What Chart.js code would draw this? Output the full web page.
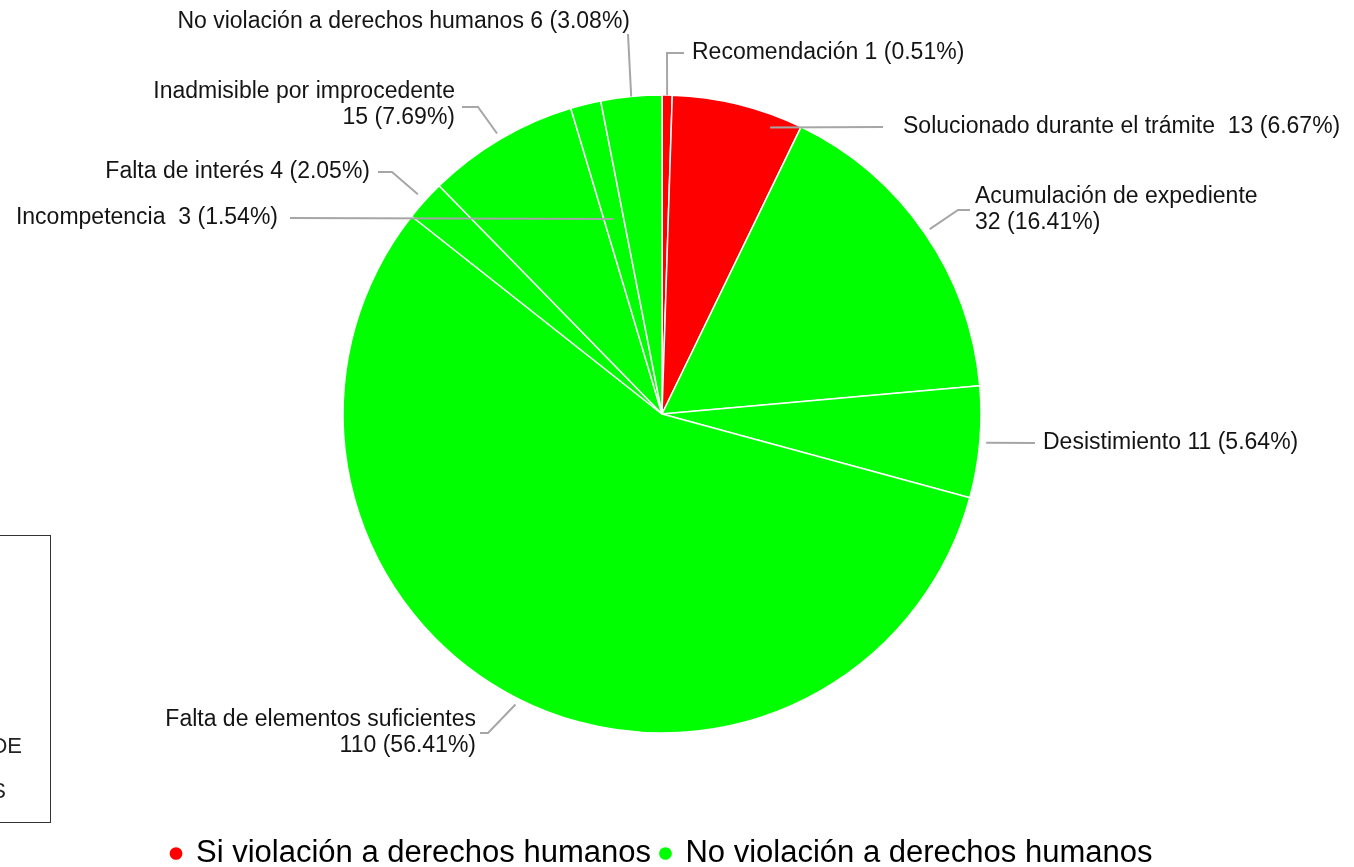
<!DOCTYPE html>
<html>
<head>
<meta charset="utf-8">
<script src="https://cdn.jsdelivr.net/npm/chart.js@4.4.1/dist/chart.umd.min.js"></script>
<style>
  body { margin: 0; background: #fff; overflow: hidden; }
  #wrap { position: relative; width: 1354px; height: 867px; }
  #caja { position: absolute; left: -10px; top: 535px; width: 59px; height: 286px; border: 1.5px solid #333; }
  .corte { position: absolute; font: 22px 'Liberation Sans', Arial, sans-serif; color: #222; white-space: nowrap; }
</style>
</head>
<body>
<div id="wrap">
  <canvas id="pastel" width="1354" height="867"></canvas>
  <div id="caja"></div>
  <span class="corte" style="right:1332px; top:733px;">DE</span>
  <span class="corte" style="right:1348px; top:778px;">S</span>
</div>
<script>
const categorias = ['Recomendación', 'Solucionado durante el trámite', 'Acumulación de expediente',
  'Desistimiento', 'Falta de elementos suficientes', 'Falta de interés',
  'Inadmisible por improcedente', 'Incompetencia', 'No violación a derechos humanos'];
const expedientes = [1, 13, 32, 11, 110, 4, 15, 3, 6];
const grupoDe = [0, 0, 1, 1, 1, 1, 1, 1, 1];
const grupos = ['Si violación a derechos humanos', 'No violación a derechos humanos'];
const coloresGrupo = ['#ff0000', '#00ff00'];

// where each label and its leader line sit (page pixels)
const etiquetas = [
  { frac: 0.5, r: 1.0, ruta: [[667, 53], [684, 53]], tx: 692, ty: 53, align: 'left', sep: ' ' },
  { frac: 0.785, r: 0.96, ruta: [[883, 127]], tx: 903, ty: 127, align: 'left', sep: '  ' },
  { frac: 0.5, r: 1.02, ruta: [[958, 210], [970, 210]], tx: 975, ty: 197, align: 'left', dos: true },
  { frac: 0.5, r: 1.02, ruta: [[1035, 443]], tx: 1043, ty: 443, align: 'left', sep: ' ' },
  { frac: 0.5, r: 1.02, ruta: [[488, 733], [480, 733]], tx: 476, ty: 720, align: 'right', dos: true },
  { frac: 0.5, r: 1.03, ruta: [[392, 172], [378, 172]], tx: 370, ty: 172, align: 'right', sep: ' ' },
  { frac: 0.5, r: 1.02, ruta: [[478, 107], [462, 107]], tx: 455, ty: 92, align: 'right', dos: true },
  { frac: 0.47, r: 0.63, ruta: [[290, 218]], tx: 278, ty: 218, align: 'right', sep: '  ' },
  { frac: 0.5, r: 1.0, ruta: [[628, 34]], tx: 630, ty: 22, align: 'right', sep: ' ' }
];

const total = expedientes.reduce((a, b) => a + b, 0);

const etiquetasPlugin = {
  id: 'etiquetas',
  afterDatasetsDraw(chart) {
    const ctx = chart.ctx;
    const arcos = chart.getDatasetMeta(0).data;
    ctx.save();
    ctx.font = "23px 'Liberation Sans', Arial, sans-serif";
    ctx.textBaseline = 'middle';
    arcos.forEach((arc, i) => {
      const e = etiquetas[i];
      const p = arc.getProps(['x', 'y', 'startAngle', 'endAngle', 'outerRadius'], true);
      const ang = p.startAngle + (p.endAngle - p.startAngle) * e.frac;
      const x0 = p.x + Math.cos(ang) * p.outerRadius * e.r;
      const y0 = p.y + Math.sin(ang) * p.outerRadius * e.r;
      ctx.strokeStyle = '#a6a6a6';
      ctx.lineWidth = 2;
      ctx.beginPath();
      ctx.moveTo(x0, y0);
      e.ruta.forEach(pt => ctx.lineTo(pt[0], pt[1]));
      ctx.stroke();
      const valor = expedientes[i] + ' (' + (expedientes[i] / total * 100).toFixed(2) + '%)';
      ctx.fillStyle = '#141414';
      ctx.textAlign = e.align;
      if (e.dos) {
        ctx.fillText(categorias[i], e.tx, e.ty);
        ctx.fillText(valor, e.tx, e.ty + 26);
      } else {
        ctx.fillText(categorias[i] + e.sep + valor, e.tx, e.ty);
      }
    });
    ctx.restore();
  }
};

new Chart(document.getElementById('pastel').getContext('2d'), {
  type: 'pie',
  data: {
    labels: categorias,
    datasets: [{
      data: expedientes,
      backgroundColor: grupoDe.map(g => coloresGrupo[g]),
      borderColor: '#ffffff',
      borderWidth: 1.5,
      radius: 319
    }]
  },
  options: {
    responsive: false,
    animation: false,
    layout: { padding: { top: 0, left: 0, right: 30, bottom: -12 } },
    plugins: {
      tooltip: { enabled: false },
      legend: {
        position: 'bottom',
        onClick: null,
        labels: {
          color: '#111',
          font: { family: "'Liberation Sans', Arial, sans-serif", size: 31 },
          usePointStyle: true,
          pointStyle: 'circle',
          boxWidth: 9,
          boxHeight: 9,
          padding: 10,
          generateLabels: () => grupos.map((g, k) => ({
            text: g,
            fillStyle: coloresGrupo[k],
            strokeStyle: coloresGrupo[k],
            lineWidth: 0,
            pointStyle: 'circle',
            hidden: false,
            datasetIndex: 0
          }))
        }
      }
    }
  },
  plugins: [etiquetasPlugin]
});
</script>
</body>
</html>
